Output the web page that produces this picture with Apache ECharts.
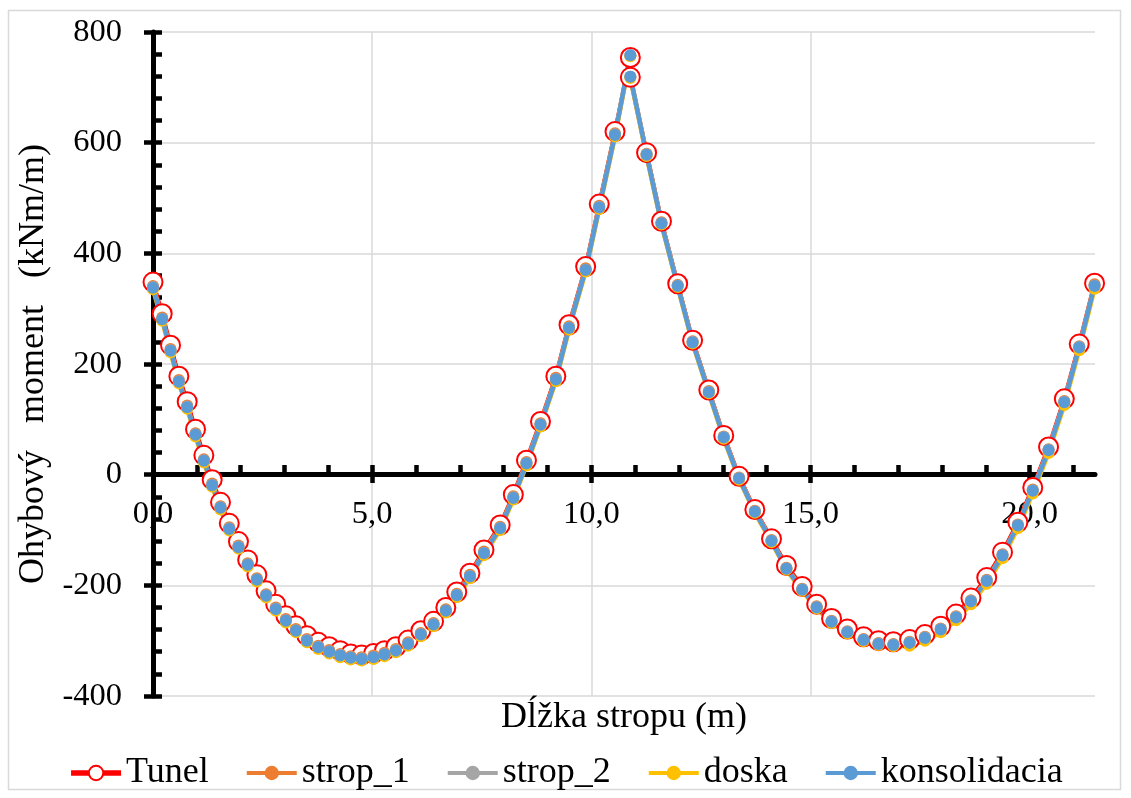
<!DOCTYPE html>
<html><head><meta charset="utf-8">
<script src="https://cdn.jsdelivr.net/npm/echarts@6/dist/echarts.min.js"></script>
<style>html,body{margin:0;padding:0;background:#fff}#c{width:1131px;height:798px}</style>
</head><body><div id="c"></div>
<script>
// x positions (m)
const xs = [0.00,0.21,0.40,0.59,0.78,0.97,1.16,1.35,1.54,1.74,1.95,2.16,2.37,2.58,2.80,3.03,3.26,3.51,3.77,4.02,4.27,4.51,4.76,5.03,5.28,5.54,5.82,6.11,6.40,6.68,6.93,7.23,7.55,7.92,8.22,8.52,8.84,9.19,9.49,9.87,10.18,10.54,10.89,10.89,11.26,11.60,11.97,12.31,12.68,13.02,13.37,13.73,14.11,14.45,14.81,15.14,15.48,15.84,16.21,16.55,16.89,17.26,17.61,17.97,18.32,18.66,19.02,19.38,19.73,20.07,20.43,20.79,21.13,21.48];
const tunel = [348,291,234,178,132,82,35,-9,-50,-88,-121,-154,-181,-210,-234,-255,-273,-291,-303,-311,-318,-324,-326,-323,-318,-311,-299,-282,-265,-240,-212,-178,-136,-91,-36,26,96,178,271,376,489,620,754,718,582,458,345,243,153,71,-3,-63,-116,-164,-202,-234,-260,-279,-293,-300,-302,-298,-289,-274,-252,-223,-186,-140,-86,-23,50,137,236,346];
const strop1 = [341,284,227,171,125,75,28,-16,-57,-95,-128,-160,-187,-216,-240,-261,-279,-297,-309,-317,-324,-328,-330,-327,-322,-315,-303,-286,-268,-243,-215,-181,-139,-94,-39,23,93,175,268,373,486,617,757,719,580,456,343,241,151,69,-5,-65,-118,-168,-206,-238,-264,-283,-297,-304,-306,-302,-293,-278,-256,-227,-190,-144,-90,-27,46,133,232,344];
const strop2 = [339,282,225,169,123,73,26,-18,-59,-97,-130,-162,-189,-218,-242,-263,-281,-299,-311,-319,-326,-330,-332,-329,-324,-317,-305,-288,-270,-245,-217,-183,-141,-96,-41,21,91,173,266,371,484,615,758,719,579,455,342,240,150,68,-6,-66,-119,-169,-207,-239,-265,-284,-298,-305,-307,-303,-294,-279,-257,-228,-191,-145,-91,-28,45,132,231,342];
const doska = [335,278,221,165,119,69,22,-22,-63,-101,-134,-166,-193,-222,-246,-267,-285,-303,-315,-323,-330,-334,-336,-333,-328,-321,-309,-292,-274,-249,-221,-187,-145,-100,-45,17,87,169,262,367,480,611,756,717,576,452,339,237,147,65,-9,-69,-122,-172,-210,-242,-268,-287,-301,-308,-310,-309,-300,-285,-263,-234,-197,-151,-97,-34,39,126,225,336];
const konsolidacia = [338,281,224,168,122,72,25,-19,-60,-98,-131,-163,-190,-219,-243,-264,-282,-300,-312,-320,-327,-331,-333,-330,-325,-318,-306,-289,-271,-246,-218,-184,-142,-97,-42,20,90,172,265,370,483,614,758,719,578,454,341,239,149,67,-7,-67,-120,-170,-208,-240,-266,-285,-299,-306,-308,-304,-295,-280,-258,-229,-192,-146,-92,-29,44,131,230,341];
const seriesNames = ['Tunel','strop_1','strop_2','doska','konsolidacia'];
const xLabelValues = [0,5,10,15,20];
const xMinorValues = [0,1,2,3,4,5,6,7,8,9,10,11,12,13,14,15,16,17,18,19,20,21];
const xTitle = 'Dĺžka stropu (m)';
const yTitle = 'Ohybový   moment   (kNm/m)';

const FONT = 'Liberation Serif';
const colors = ['#FF0000','#ED7D31','#A5A5A5','#FFC000','#5B9BD5'];
const vals = [tunel, strop1, strop2, doska, konsolidacia];
const mk = a => xs.map((x,i)=>[x,a[i]]);
const XMAX = 21.49;
const X_OFF = -222; // x axis crosses at y = 0
const fmtX = v => v.toFixed(1).replace('.', ',');

const chart = echarts.init(document.getElementById('c'), null, {renderer:'canvas'});
const series = seriesNames.map((n,k)=>{
  const isT = k===0;
  return {
    name:n, type:'line', data: mk(vals[k]), xAxisIndex:0, yAxisIndex:0,
    symbol:'circle', symbolSize: isT?19:12, showAllSymbol:true,
    lineStyle:{color:colors[k], width: isT?4:4.5},
    itemStyle: isT ? {color:'#ffffff', borderColor:'#FF0000', borderWidth:2} : {color:colors[k], borderWidth:0},
    emphasis:{disabled:true}, animation:false, clip:false
  };
});
chart.setOption({
  animation:false,
  backgroundColor:'#ffffff',
  graphic:[{type:'rect', shape:{x:8.5,y:10.5,width:1112,height:779}, style:{fill:'none', stroke:'#d9d9d9', lineWidth:1.5}, z:-10}],
  grid:{left:153, right:36, top:32, bottom:102, containLabel:false, outerBoundsMode:'none'},
  legend:{
    top:750, left:'center', itemWidth:50, itemHeight:18, itemGap:36,
    textStyle:{fontFamily:FONT, fontSize:36, color:'#000'},
    data: seriesNames.map((n,k)=>({name:n, itemStyle: k===0?{color:'#fff',borderColor:'#FF0000',borderWidth:2}:{color:colors[k]}, lineStyle:{color:colors[k], width:k===0?5.5:4}}))
  },
  xAxis:[{
    type:'value', min:0, max:XMAX, interval:5, position:'bottom', offset:X_OFF,
    axisLine:{show:true, onZero:false, lineStyle:{color:'#000', width:5}},
    axisTick:{show:true, inside:false, length:9, customValues:xLabelValues, lineStyle:{color:'#000', width:4.5}},
    axisLabel:{customValues:xLabelValues, formatter:fmtX, fontFamily:FONT, fontSize:32.5, color:'#000', margin:24},
    splitLine:{show:true, showMaxLine:false, lineStyle:{color:'#d9d9d9', width:1.5}},
    name:xTitle, nameLocation:'middle', nameGap:226, nameTextStyle:{fontFamily:FONT, fontSize:36, color:'#000'}
  },{
    type:'value', min:0, max:XMAX, interval:5, position:'bottom', offset:X_OFF,
    axisLine:{show:false, onZero:false},
    axisTick:{show:true, inside:true, length:9, customValues:xMinorValues, lineStyle:{color:'#000', width:4.5}},
    axisLabel:{show:false}, splitLine:{show:false}
  }],
  yAxis:[{
    type:'value', min:-400, max:800, interval:200, position:'left',
    axisLine:{show:true, onZero:true, onZeroAxisIndex:0, lineStyle:{color:'#000', width:5}},
    axisTick:{show:true, inside:false, length:9, lineStyle:{color:'#000', width:4.5}},
    axisLabel:{fontFamily:FONT, fontSize:32.5, color:'#000', margin:31},
    splitLine:{show:true, lineStyle:{color:'#d9d9d9', width:1.5}},
    name:yTitle, nameLocation:'middle', nameGap:98, nameRotate:90, nameTextStyle:{fontFamily:FONT, fontSize:36, color:'#000'}
  },{
    type:'value', min:-400, max:800, interval:200, position:'left',
    axisLine:{show:false, onZero:true, onZeroAxisIndex:0},
    axisTick:{show:true, inside:true, length:9, lineStyle:{color:'#000', width:4.5}},
    minorTick:{show:true, splitNumber:5, length:9, lineStyle:{color:'#000', width:4.5}},
    axisLabel:{show:false}, splitLine:{show:false}
  }],
  series: series
});
</script></body></html>
